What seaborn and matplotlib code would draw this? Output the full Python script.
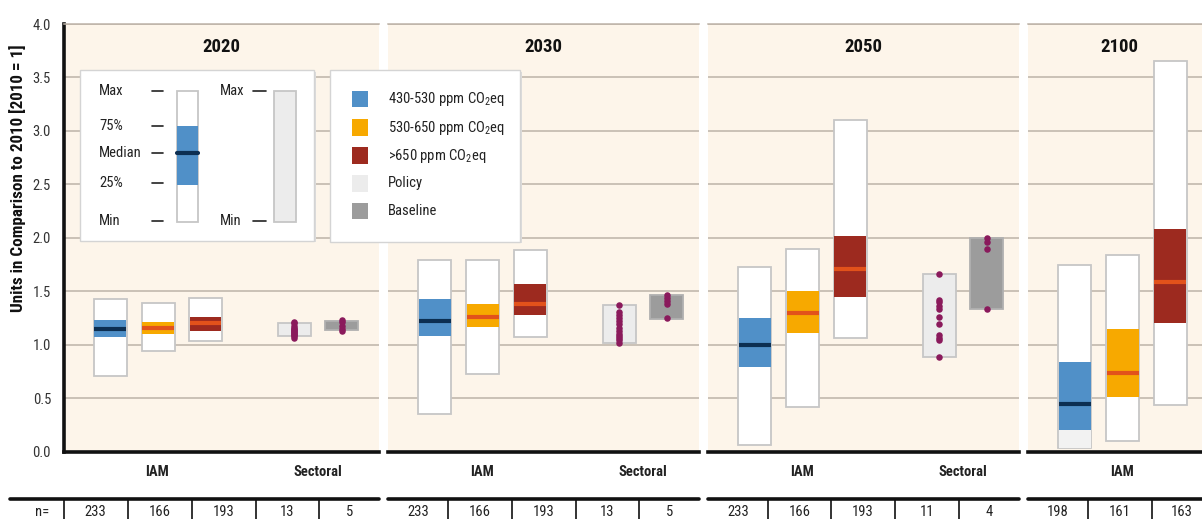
import numpy as np
import matplotlib
matplotlib.use('Agg')
import matplotlib.pyplot as plt
import matplotlib.transforms as mtransforms
import seaborn as sns
from matplotlib import font_manager
from matplotlib.patches import Rectangle


# Chart values (units relative to 2010 = 1)
years = ['2020', '2030', '2050', '2100']
scenarios = ['430-530 ppm CO$_\\mathregular{2}$eq', '530-650 ppm CO$_\\mathregular{2}$eq',
             '>650 ppm CO$_\\mathregular{2}$eq']

# IAM boxes, one row per year, one column per scenario
iam_min = [[0.71, 0.94, 1.035], [0.35, 0.73, 1.07], [0.06, 0.42, 1.06], [0.03, 0.10, 0.435]]
iam_q1 = [[1.07, 1.10, 1.13], [1.08, 1.165, 1.28], [0.79, 1.11, 1.45], [0.20, 0.51, 1.20]]
iam_med = [[1.15, 1.16, 1.20], [1.22, 1.26, 1.38], [1.00, 1.30, 1.71], [0.45, 0.74, 1.59]]
iam_q3 = [[1.23, 1.21, 1.26], [1.43, 1.38, 1.57], [1.25, 1.50, 2.02], [0.84, 1.15, 2.08]]
iam_max = [[1.43, 1.39, 1.44], [1.79, 1.79, 1.89], [1.73, 1.90, 3.10], [1.75, 1.84, 3.65]]

# Sectoral studies (2020, 2030, 2050)
policy_min = [1.08, 1.02, 0.89]
policy_max = [1.20, 1.37, 1.66]
baseline_min = [1.14, 1.24, 1.33]
baseline_max = [1.22, 1.47, 2.00]
policy_pts = [
    [1.06, 1.08, 1.09, 1.10, 1.11, 1.12, 1.13, 1.14, 1.15, 1.16, 1.18, 1.20, 1.21],
    [1.02, 1.04, 1.06, 1.08, 1.10, 1.13, 1.16, 1.19, 1.22, 1.25, 1.28, 1.31, 1.37],
    [0.89, 1.04, 1.06, 1.09, 1.19, 1.26, 1.33, 1.36, 1.40, 1.42, 1.66],
]
baseline_pts = [
    [1.13, 1.15, 1.18, 1.21, 1.23],
    [1.25, 1.38, 1.41, 1.44, 1.47],
    [1.335, 1.90, 1.96, 2.00],
]

n_counts = [[233, 166, 193, 13, 5], [233, 166, 193, 13, 5], [233, 166, 193, 11, 4], [198, 161, 163]]

# styling
iqr_colors = ['#5090c8', '#f7a900', '#9d2a1f']
median_colors = ['#0c2f52', '#e2521b', '#e2521b']
policy_color = '#ececec'
baseline_color = '#9c9c9c'
dot_color = '#8a1a5c'
panel_bg = '#fdf5ea'
grid_color = '#bdb3a8'
edge_color = '#c6c6c6'

sns.set_style('white')
names = {f.name for f in font_manager.fontManager.ttflist}
FONT = 'DejaVu Sans'
for cand in ['Liberation Sans Narrow', 'Roboto Condensed', 'Roboto']:
    if cand in names:
        FONT = cand
        break
plt.rcParams['font.family'] = [FONT, 'DejaVu Sans']
plt.rcParams['mathtext.fontset'] = 'custom'
plt.rcParams['mathtext.rm'] = FONT

W, H = 1202, 519
fig = plt.figure(figsize=(W / 100, H / 100), dpi=100)


def frac(x0, y0, x1, y1):
    return [x0 / W, 1 - y1 / H, (x1 - x0) / W, (y1 - y0) / H]


panel_x = [(63.5, 379.3), (388.3, 699.3), (708.3, 1019.3), (1028.3, 1211.5)]
y_top, y_bot = 24, 451.7
box_pos = [46.5, 94.5, 142.0, 230.7, 278.3]
box_w = 33
dividers = [[64.2, 128.2, 192.2, 255.8], [59.4, 123.4, 187.4, 250.7],
            [59.4, 122.7, 186.7, 250.7], [59.4, 123.4]]

for i, year in enumerate(years):
    x0, x1 = panel_x[i]
    pw = x1 - x0
    ax = fig.add_axes(frac(x0, y_top, x1, y_bot))
    ax.set_facecolor(panel_bg)
    ax.set_xlim(0, pw)
    ax.set_ylim(0, 4)
    ax.set_yticks(np.arange(0, 4.01, 0.5))
    ax.set_xticks([])
    ax.yaxis.grid(True, color=grid_color, lw=1.1)
    ax.set_axisbelow(True)
    ax.spines['right'].set_visible(False)
    ax.spines['top'].set_color(grid_color)
    ax.spines['top'].set_linewidth(1.1)
    ax.spines['bottom'].set_color('#111111')
    ax.spines['bottom'].set_linewidth(2.6)
    if i == 0:
        ax.spines['left'].set_color('#111111')
        ax.spines['left'].set_linewidth(2.6)
        ax.tick_params(axis='y', direction='out', length=5, width=1, color='#999999',
                       labelsize=10.5, labelcolor='#333333', pad=4)
        ax.set_yticklabels([f'{v:.1f}' for v in np.arange(0, 4.01, 0.5)])
    else:
        ax.spines['left'].set_visible(False)
        ax.tick_params(axis='y', length=0, labelleft=False)

    # IAM boxes
    for j in range(3):
        x = box_pos[j]
        lo, hi = iam_min[i][j], iam_max[i][j]
        ax.bar(x, hi - lo, bottom=lo, width=box_w, color='white', edgecolor=edge_color,
               linewidth=1.3, zorder=2)
        if i == 3 and j == 0:
            ax.bar(x, iam_q1[i][j] - lo, bottom=lo, width=box_w - 1.5, color='#f2f2f2',
                   linewidth=0, zorder=2)
        ax.bar(x, iam_q3[i][j] - iam_q1[i][j], bottom=iam_q1[i][j], width=box_w - 1.2,
               color=iqr_colors[j], linewidth=0, zorder=3)
        ax.hlines(iam_med[i][j], x - box_w / 2 + 0.6, x + box_w / 2 - 0.6,
                  color=median_colors[j], lw=3.0, zorder=4)

    # sectoral ranges and individual studies
    if i < 3:
        xp, xb = box_pos[3], box_pos[4]
        ax.bar(xp, policy_max[i] - policy_min[i], bottom=policy_min[i], width=box_w,
               color=policy_color, edgecolor=edge_color, linewidth=1.3, zorder=2)
        ax.bar(xb, baseline_max[i] - baseline_min[i], bottom=baseline_min[i], width=box_w,
               color=baseline_color, edgecolor='#b0b0b0', linewidth=1.3, zorder=2)
        sns.scatterplot(x=np.full(len(policy_pts[i]), xp), y=policy_pts[i], ax=ax,
                        color=dot_color, s=22, linewidth=0, zorder=5, legend=False)
        sns.scatterplot(x=np.full(len(baseline_pts[i]), xb), y=baseline_pts[i], ax=ax,
                        color=dot_color, s=22, linewidth=0, zorder=5, legend=False)

    ax.set_xlabel('')
    ax.set_ylabel('')
    trans = mtransforms.blended_transform_factory(ax.transData, ax.transAxes)
    ax.text(93.5, -0.048, 'IAM', transform=trans, ha='center', va='center',
            fontsize=10.5, fontweight='bold', color='#222222')
    if i < 3:
        ax.text(254.5, -0.048, 'Sectoral', transform=trans, ha='center', va='center',
                fontsize=10.5, fontweight='bold', color='#222222')
    title_x = pw / 2 if i < 3 else 91.5
    ax.text(title_x, 0.947, year, transform=trans, ha='center', va='center',
            fontsize=13.5, fontweight='bold', color='#111111')

    # n= table row
    tx0 = 10 if i == 0 else x0
    tab = fig.add_axes(frac(tx0, 499.3, x1, 524))
    tab.set_xlim(-(x0 - tx0), pw)
    tab.set_ylim(0, 1)
    tab.axis('off')
    tab.axhline(1, color='#111111', lw=2.6, clip_on=False)
    edges = [0] + dividers[i] + [pw]
    tab.vlines(dividers[i], 0, 1, color='#111111', lw=1.2)
    for k, n in enumerate(n_counts[i]):
        tab.text((edges[k] + edges[k + 1]) / 2, 0.5, str(n), ha='center', va='center',
                 fontsize=10.5, color='#222222')
    if i == 0:
        tab.vlines([0], 0, 1, color='#111111', lw=1.2)
        tab.text(-21, 0.5, 'n=', ha='center', va='center', fontsize=10.5, color='#222222')

fig.text(18 / W, 1 - 178 / H, 'Units in Comparison to 2010 [2010 = 1]', rotation=90,
         ha='center', va='center', fontsize=12.3, fontweight='bold', color='#111111')

# legends drawn on a pixel overlay
ov = fig.add_axes([0, 0, 1, 1], zorder=10)
ov.set_xlim(0, W)
ov.set_ylim(H, 0)
ov.axis('off')
ov.patch.set_alpha(0)


def panel_box(x0, y0, x1, y1):
    ov.add_patch(Rectangle((x0 + 1.5, y0 + 1.5), x1 - x0, y1 - y0, color='#dcdcdc', lw=0))
    ov.add_patch(Rectangle((x0, y0), x1 - x0, y1 - y0, facecolor='white',
                           edgecolor='#d4d4d4', lw=1))


panel_box(80, 70, 314.3, 240.7)
for lab, yy in zip(['Max', '75%', 'Median', '25%', 'Min'], [90.7, 126, 153.3, 183.3, 221]):
    ov.text(99, yy, lab, ha='left', va='center', fontsize=10.5, color='#222222')
    ov.plot([151.7, 163.3], [yy, yy], color='#222222', lw=1.2)
ov.add_patch(Rectangle((176.7, 90.7), 21.6, 131.6, facecolor='white', edgecolor=edge_color, lw=1.3))
ov.add_patch(Rectangle((177.2, 126), 20.6, 59, color=iqr_colors[0], lw=0))
ov.plot([177.2, 197.8], [153.3, 153.3], color=median_colors[0], lw=3.0)
for lab, yy in zip(['Max', 'Min'], [90.7, 221]):
    ov.text(220, yy, lab, ha='left', va='center', fontsize=10.5, color='#222222')
    ov.plot([253.3, 265.7], [yy, yy], color='#222222', lw=1.2)
ov.add_patch(Rectangle((274, 90.7), 21.7, 131.6, facecolor=policy_color, edgecolor=edge_color, lw=1.3))

panel_box(330, 70, 520, 241.7)
legend_labels = scenarios + ['Policy', 'Baseline']
legend_colors = iqr_colors + [policy_color, baseline_color]
for lab, col, yy in zip(legend_labels, legend_colors, [99, 127.7, 155.7, 183.3, 211]):
    ov.add_patch(Rectangle((351.7, yy - 8.3), 16.6, 16.6, color=col, lw=0))
    ov.text(387.7, yy, lab, ha='left', va='center', fontsize=10.5, color='#222222')

fig.savefig('out.png', dpi=100)
